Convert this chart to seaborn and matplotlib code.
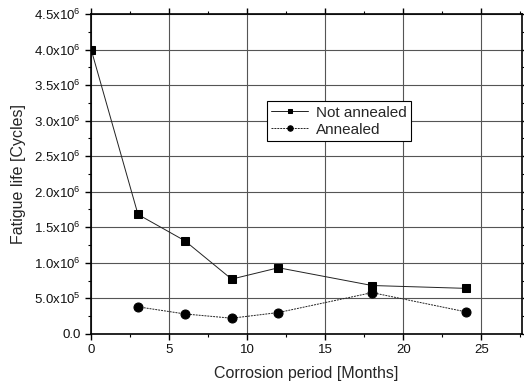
import matplotlib
matplotlib.use("Agg")
import matplotlib.pyplot as plt
import matplotlib.ticker as mticker
import seaborn as sns
import pandas as pd

months_not_annealed = [0, 3, 6, 9, 12, 18, 24]
life_not_annealed = [4.0e6, 1.68e6, 1.31e6, 0.77e6, 0.93e6, 0.68e6, 0.64e6]
months_annealed = [3, 6, 9, 12, 18, 24]
life_annealed = [0.38e6, 0.28e6, 0.22e6, 0.30e6, 0.58e6, 0.31e6]
y_ticks = [0, 0.5e6, 1.0e6, 1.5e6, 2.0e6, 2.5e6, 3.0e6, 3.5e6, 4.0e6, 4.5e6]
x_ticks = [0, 5, 10, 15, 20, 25]

sns.set_theme(style="ticks")
plt.rcParams["font.family"] = ["Liberation Sans", "DejaVu Sans"]
plt.rcParams["mathtext.fontset"] = "custom"
plt.rcParams["mathtext.rm"] = "Liberation Sans"

df1 = pd.DataFrame({"month": months_not_annealed, "life": life_not_annealed})
df2 = pd.DataFrame({"month": months_annealed, "life": life_annealed})

fig = plt.figure(figsize=(5.24, 3.9), dpi=100)
ax = fig.add_axes([0.174, 0.144, 0.822, 0.82])

sns.lineplot(data=df1, x="month", y="life", ax=ax, color="#222222", lw=0.7,
             marker="s", markersize=6, markeredgecolor="black",
             markerfacecolor="black", label="Not annealed")
sns.lineplot(data=df2, x="month", y="life", ax=ax, color="#222222", lw=0.7,
             ls=(0, (2, 1)), marker="o", markersize=6.5, markeredgecolor="black",
             markerfacecolor="black", label="Annealed")

ax.set_xlim(0, 27.6)
ax.set_ylim(0, 4.5e6)
ax.set_xticks(x_ticks)
ax.set_yticks(y_ticks)
ax.xaxis.set_minor_locator(mticker.MultipleLocator(2.5))
ax.yaxis.set_minor_locator(mticker.MultipleLocator(0.25e6))


def sci_label(v, pos):
    if v == 0:
        return "0.0"
    exp = 6 if v >= 1e6 else 5
    return r"%.1fx10$^{%d}$" % (v / 10 ** exp, exp)


ax.yaxis.set_major_formatter(mticker.FuncFormatter(sci_label))
ax.grid(True, which="major", color="#555555", lw=0.8)
ax.tick_params(which="both", direction="out", top=True, right=True,
               labelsize=9.5, color="black", labelcolor="#111111")
ax.tick_params(which="major", length=4, width=1)
ax.tick_params(which="minor", length=2.5, width=0.8)
for s in ax.spines.values():
    s.set_color("black")
    s.set_linewidth(1.2)

ax.set_xlabel("Corrosion period [Months]", fontsize=11.5, labelpad=7)
ax.set_ylabel("Fatigue life [Cycles]", fontsize=11.5, labelpad=6)

leg = ax.legend(loc="upper left", bbox_to_anchor=(0.408, 0.728),
                borderaxespad=0, fontsize=11, markerscale=0.6,
                frameon=True, fancybox=False, edgecolor="black",
                handlelength=2.4, handletextpad=0.5, borderpad=0.3,
                labelspacing=0.2, framealpha=1)
leg.get_frame().set_linewidth(0.8)

fig.savefig("out.png", dpi=100)
